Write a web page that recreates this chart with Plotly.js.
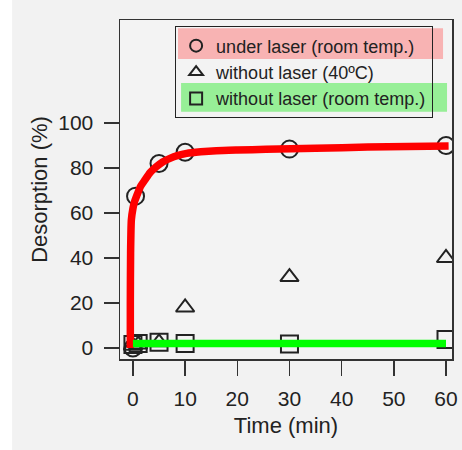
<!DOCTYPE html>
<html>
<head>
<meta charset="utf-8">
<script src="https://cdn.plot.ly/plotly-3.0.1.min.js"></script>
<style>html,body{margin:0;padding:0;background:#fff;}#chart{width:462px;height:450px;}</style>
</head>
<body>
<div id="chart"></div>
<script>
// Data
var seriesNames = ["under laser (room temp.)", "without laser (40ºC)", "without laser (room temp.)"];
var circleTime = [0, 0.5, 5, 10, 30, 60];
var circleDesorption = [0, 67.5, 82, 87, 88.4, 90];
var triangleTime = [0, 1, 5, 10, 30, 60];
var triangleDesorption = [1, 1.5, 2.5, 18, 31.5, 40];
var squareTime = [0, 1, 5, 10, 30, 60];
var squareDesorption = [1.5, 2, 2.5, 2, 1.8, 3.8];
// fitted curves drawn over the data
var redFitTime = [-0.5, -0.5, -0.45, -0.3, 0, 0.3, 0.7, 1.5, 2.3, 3.3, 4.5, 5.7, 7.1, 8.5, 10.3, 13, 16, 20, 25.5, 35, 45, 60.5];
var redFitDesorption = [0, 20, 42, 57, 62, 65, 67.5, 72, 74.7, 78, 80.6, 82.7, 84.3, 85.5, 86.5, 87.2, 87.7, 88, 88.3, 88.8, 89.3, 89.8];
var greenFitTime = [0, 60];
var greenFitDesorption = [2, 2];
var xTickVals = [0, 10, 20, 30, 40, 50, 60];
var yTickVals = [0, 20, 40, 60, 80, 100];

var ink = '#222';
var mk = function (sym, size) {
  return {symbol: sym, size: size, color: ink, line: {color: ink, width: 2}};
};
var traces = [
  {x: circleTime, y: circleDesorption, mode: 'markers', name: seriesNames[0], marker: mk('circle-open', 17)},
  {x: triangleTime, y: triangleDesorption, mode: 'markers', name: seriesNames[1], marker: mk('triangle-up-open', 16)},
  {x: squareTime, y: squareDesorption, mode: 'markers', name: seriesNames[2], marker: mk('square-open', 17)},
  {x: redFitTime, y: redFitDesorption, mode: 'lines', showlegend: false, line: {color: '#ff0000', width: 7.5, shape: 'spline', smoothing: 0.6}},
  {x: greenFitTime, y: greenFitDesorption, mode: 'lines', showlegend: false, line: {color: '#00ff00', width: 7.5}}
];

var layout = {
  width: 462, height: 450,
  margin: {l: 120, r: 10, t: 20, b: 91},
  paper_bgcolor: '#f2f2f2',
  plot_bgcolor: '#f3f3f3',
  font: {family: 'Liberation Sans, Arial, sans-serif', color: ink, size: 21},
  showlegend: true,
  legend: {
    x: 0.166, y: 0.981, xanchor: 'left', yanchor: 'top',
    bgcolor: 'rgba(0,0,0,0)', bordercolor: ink, borderwidth: 1,
    font: {size: 18, color: ink}, itemsizing: 'constant'
  },
  xaxis: {
    range: [-2.48, 61.15], tickvals: xTickVals, ticks: 'outside', ticklen: 15, tickwidth: 1.5, tickcolor: '#333',
    showgrid: false, zeroline: false, showline: true, linecolor: '#333', linewidth: 1.5, mirror: true,
    ticklabelstandoff: 5, tickfont: {size: 21},
    title: {text: 'Time (min)', font: {size: 22}, standoff: 9}
  },
  yaxis: {
    range: [-4.9, 145.8], tickvals: yTickVals, ticks: 'outside', ticklen: 15, tickwidth: 1.5, tickcolor: '#333',
    showgrid: false, zeroline: false, showline: true, linecolor: '#333', linewidth: 1.5, mirror: true,
    ticklabelstandoff: 6, tickfont: {size: 21},
    title: {text: 'Desorption (%)', font: {size: 22}, standoff: 4}
  },
  shapes: [
    {type: 'rect', xref: 'paper', yref: 'paper', x0: -0.37, x1: -0.325, y0: -0.3, y1: 1.1, fillcolor: '#ffffff', line: {width: 0}, layer: 'below'},
    {type: 'rect', xref: 'paper', yref: 'paper', x0: 0.1747, x1: 0.973, y0: 0.885, y1: 0.976, fillcolor: 'rgba(255,90,90,0.42)', line: {width: 0}, layer: 'above'},
    {type: 'rect', xref: 'paper', yref: 'paper', x0: 0.184, x1: 0.985, y0: 0.729, y1: 0.814, fillcolor: 'rgba(60,235,60,0.5)', line: {width: 0}, layer: 'above'}
  ]
};

Plotly.newPlot('chart', traces, layout, {displayModeBar: false, staticPlot: true});
</script>
</body>
</html>
